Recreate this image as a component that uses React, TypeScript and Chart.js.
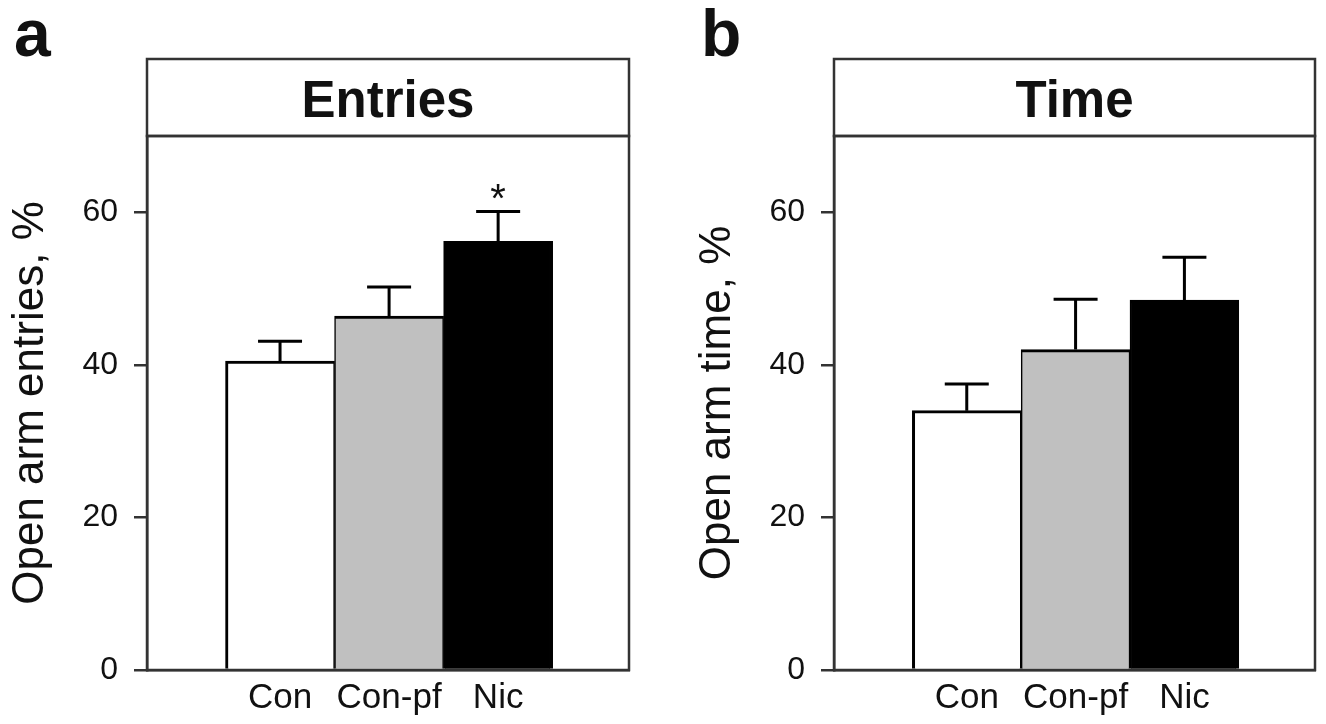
import React, { useEffect, useRef } from 'react';
import { Chart, registerables } from 'chart.js';

Chart.register(...registerables);

// ---- data ----
const categories = ['Con', 'Con-pf', 'Nic'];
const entriesMean = [40.5, 46.4, 56.2];
const entriesError = [2.6, 3.8, 3.9];
const timeMean = [34.0, 42.0, 48.5];
const timeError = [3.5, 6.6, 5.6];
const yTicks = [0, 20, 40, 60];
const barColors = ['#ffffff', '#c0c0c0', '#000000'];
const entriesStars = ['', '', '*'];
const timeStars = ['', '', ''];

const FONT = '"Liberation Sans", Arial, Helvetica, sans-serif';
const LINE = '#333333';

const decorPlugin = {
  id: 'panelDecor',
  afterDraw(chart: any, _args: any, opts: any) {
    const { ctx, chartArea: a, scales } = chart;
    const meta = chart.getDatasetMeta(0);
    const ds = chart.data.datasets[0];
    ctx.save();
    // error bars (upper only)
    ctx.strokeStyle = '#000';
    ctx.lineWidth = 3;
    ctx.lineCap = 'butt';
    opts.errors.forEach((e: number, i: number) => {
      const el = meta.data[i];
      const v = ds.data[i].y;
      const yBar = scales.y.getPixelForValue(v);
      const yTop = scales.y.getPixelForValue(v + e);
      ctx.beginPath();
      ctx.moveTo(el.x, yBar);
      ctx.lineTo(el.x, yTop);
      ctx.moveTo(el.x - 22, yTop);
      ctx.lineTo(el.x + 22, yTop);
      ctx.stroke();
      const star = opts.stars[i];
      if (star) {
        ctx.fillStyle = '#111';
        ctx.font = `40px ${FONT}`;
        ctx.textAlign = 'center';
        ctx.textBaseline = 'alphabetic';
        ctx.fillText(star, el.x, yTop);
      }
    });
    // plot frame and title box
    ctx.strokeStyle = LINE;
    ctx.lineWidth = 2.5;
    ctx.strokeRect(a.left, a.top, a.right - a.left, a.bottom - a.top);
    ctx.strokeRect(a.left, opts.boxTop, a.right - a.left, a.top - opts.boxTop);
    ctx.fillStyle = '#111';
    ctx.font = `bold 51px ${FONT}`;
    ctx.textAlign = 'center';
    ctx.textBaseline = 'alphabetic';
    ctx.fillText(opts.title, (a.left + a.right) / 2, 117);
    // panel letter
    ctx.font = `bold 66px ${FONT}`;
    ctx.textAlign = 'left';
    ctx.fillText(opts.letter, 14, 56);
    ctx.restore();
  },
};

type PanelProps = {
  left: number;
  width: number;
  letter: string;
  title: string;
  yTitle: string;
  mean: number[];
  errors: number[];
  stars: string[];
};

function Panel(p: PanelProps) {
  const ref = useRef<HTMLCanvasElement | null>(null);
  useEffect(() => {
    if (!ref.current) return;
    const chart = new Chart(ref.current, {
      type: 'bar',
      data: {
        datasets: [
          {
            data: p.mean.map((y, i) => ({ x: i + 1, y })),
            backgroundColor: barColors,
            borderColor: '#000',
            borderWidth: (c: any) => ({
              top: 3,
              left: c.dataIndex === 0 ? 3 : 1.5,
              right: c.dataIndex === categories.length - 1 ? 3 : 1.5,
              bottom: 0,
            }),
            borderSkipped: 'start',
            barPercentage: 1,
            categoryPercentage: 1,
          } as any,
        ],
      },
      options: {
        responsive: false,
        animation: false,
        devicePixelRatio: 1,
        layout: { padding: { top: 136, right: 11, left: 0, bottom: 0 } },
        plugins: {
          legend: { display: false },
          tooltip: { enabled: false },
          panelDecor: {
            errors: p.errors,
            stars: p.stars,
            title: p.title,
            letter: p.letter,
            boxTop: 59,
          },
        } as any,
        scales: {
          x: {
            type: 'linear',
            offset: false,
            min: -0.22,
            max: 4.2,
            afterBuildTicks: (s: any) => {
              s.ticks = categories.map((_, i) => ({ value: i + 1 }));
            },
            afterFit: (s: any) => {
              s.height = 54;
            },
            grid: { display: false, drawTicks: false, offset: false },
            border: { display: true, color: LINE, width: 2.5 },
            ticks: {
              callback: (_v: any, i: number) => categories[i],
              font: { size: 35, family: FONT, lineHeight: 1 },
              color: '#111',
              padding: 11,
              maxRotation: 0,
              autoSkip: false,
            },
          },
          y: {
            min: 0,
            max: 70,
            afterBuildTicks: (s: any) => {
              s.ticks = yTicks.map((v) => ({ value: v }));
            },
            afterFit: (s: any) => {
              s.width = 147;
            },
            grid: {
              display: true,
              drawOnChartArea: false,
              drawTicks: true,
              tickLength: 13,
              color: LINE,
              lineWidth: 2.5,
            },
            border: { display: true, color: LINE, width: 2.5 },
            ticks: {
              font: { size: 32, family: FONT },
              color: '#111',
              padding: 16,
            },
            title: {
              display: true,
              text: p.yTitle,
              font: { size: 44, family: FONT, lineHeight: 1 },
              color: '#111',
              padding: { top: 9, bottom: 0 },
            },
          },
        } as any,
      },
      plugins: [decorPlugin],
    });
    return () => chart.destroy();
  }, []);
  return (
    <canvas
      ref={ref}
      width={p.width}
      height={724}
      style={{ position: 'absolute', left: p.left, top: 0, width: p.width, height: 724 }}
    />
  );
}

export default function App() {
  return (
    <div
      style={{
        position: 'fixed',
        left: 0,
        top: 0,
        width: 1326,
        height: 724,
        background: '#ffffff',
        overflow: 'hidden',
      }}
    >
      <Panel
        left={0}
        width={640}
        letter="a"
        title="Entries"
        yTitle="Open arm entries, %"
        mean={entriesMean}
        errors={entriesError}
        stars={entriesStars}
      />
      <Panel
        left={687}
        width={639}
        letter="b"
        title="Time"
        yTitle="Open arm time, %"
        mean={timeMean}
        errors={timeError}
        stars={timeStars}
      />
    </div>
  );
}
